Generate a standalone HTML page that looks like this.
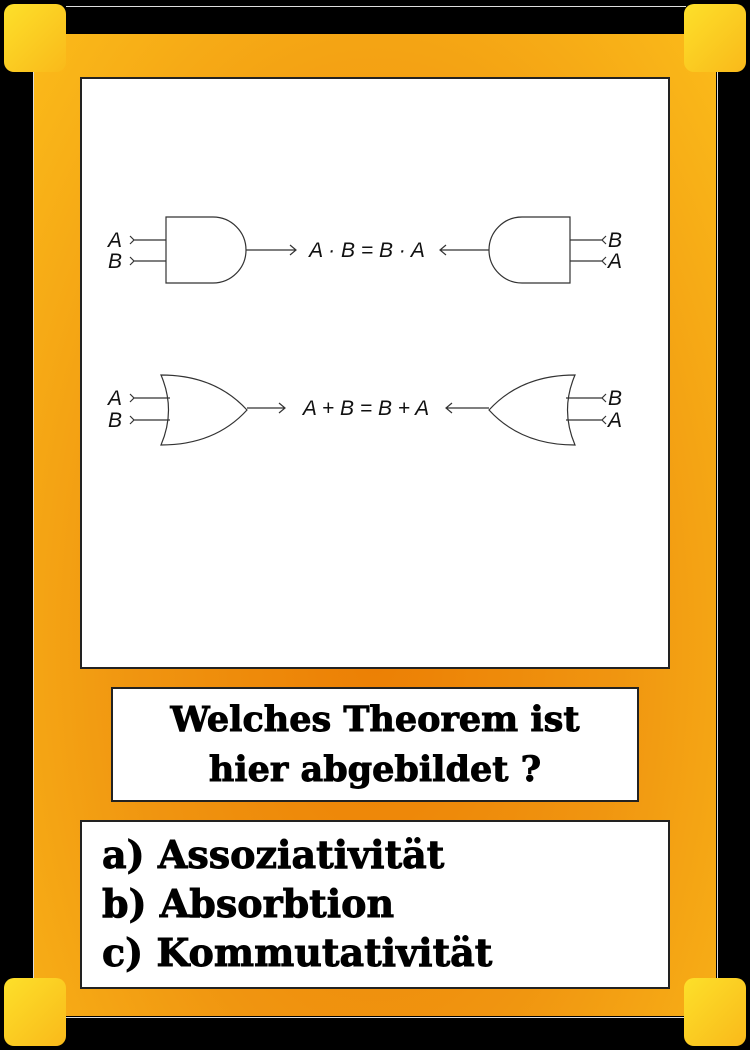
<!DOCTYPE html>
<html><head><meta charset="utf-8"><style>
html,body{margin:0;padding:0;background:#000;}
#card{position:relative;width:750px;height:1050px;background:#000;overflow:hidden;font-family:"DejaVu Serif","Liberation Serif",serif;}
.abs{position:absolute;}
#frame{left:34px;top:34px;width:682px;height:982px;background:radial-gradient(ellipse at 50% 62%,#ec7f04 0%,#f09510 50%,#fbbb1a 100%);}
.corner{width:62px;height:68px;border-radius:10px;background:linear-gradient(135deg,#fde02a,#f9b91a);}
.panel{background:#fff;border:2px solid #222;box-sizing:border-box;}
.q{font-weight:bold;font-size:35px;text-align:center;line-height:50px;color:#000;-webkit-text-stroke:0.9px #000;white-space:nowrap;}
.ans{font-weight:bold;font-size:38px;line-height:49px;color:#000;-webkit-text-stroke:0.9px #000;white-space:nowrap;}
</style></head><body>
<div id="card">
  <div class="abs" style="left:66px;top:6px;width:620px;height:26px;border-top:1px solid #ddd;"></div>
  <div class="abs" style="left:33px;top:70px;width:1px;height:908px;background:#ddd;"></div>
  <div class="abs" style="left:717px;top:70px;width:1px;height:908px;background:#ddd;"></div>
  <div class="abs" style="left:66px;top:1017px;width:620px;height:1px;background:#ddd;"></div>
  <div id="frame" class="abs"></div>
  <div class="abs corner" style="left:4px;top:4px;"></div>
  <div class="abs corner" style="left:684px;top:4px;"></div>
  <div class="abs corner" style="left:4px;top:978px;"></div>
  <div class="abs corner" style="left:684px;top:978px;"></div>

  <div class="abs panel" style="left:80px;top:77px;width:590px;height:592px;">
    <svg width="590" height="592" viewBox="80 77 590 592" style="position:absolute;left:-2px;top:-2px;">
      <g fill="none" stroke="#333" stroke-width="1.2">
        <path d="M166 217 H213 A33 33 0 0 1 213 283 H166 Z"/>
        <path d="M134 240 H166 M134 261 H166 M130 236 l4 4 l-4 4 M130 257 l4 4 l-4 4"/>
        <path d="M246 250 H296 M290 245 l6 5 l-6 5"/>
        <path d="M570 217 H522 A33 33 0 0 0 522 283 H570 Z"/>
        <path d="M570 240 H602 M570 261 H602 M606 236 l-4 4 l4 4 M606 257 l-4 4 l4 4"/>
        <path d="M489 250 H440 M446 245 l-6 5 l6 5"/>
        <path d="M161 375 Q215 375 247 410 Q215 445 161 445 Q176 410 161 375 Z"/>
        <path d="M134 398 H170 M134 420 H170 M130 394 l4 4 l-4 4 M130 416 l4 4 l-4 4"/>
        <path d="M247 408 H285 M279 403 l6 5 l-6 5"/>
        <path d="M575 375 Q521 375 489 410 Q521 445 575 445 Q560 410 575 375 Z"/>
        <path d="M566 398 H602 M566 420 H602 M606 394 l-4 4 l4 4 M606 416 l-4 4 l4 4"/>
        <path d="M489 408 H446 M452 403 l-6 5 l6 5"/>
      </g>
      <g font-family="Liberation Sans, sans-serif" font-style="italic" font-size="21" fill="#111">
        <text x="108" y="247">A</text><text x="108" y="268">B</text>
        <text x="608" y="247">B</text><text x="608" y="268">A</text>
        <text x="108" y="405">A</text><text x="108" y="427">B</text>
        <text x="608" y="405">B</text><text x="608" y="427">A</text>
        <text x="367" y="257" text-anchor="middle">A · B = B · A</text>
        <text x="366" y="415" text-anchor="middle">A + B = B + A</text>
      </g>
    </svg>
  </div>

  <div class="abs panel q" style="left:111px;top:687px;width:528px;height:115px;padding-top:6px;">
    Welches Theorem ist<br>hier abgebildet ?
  </div>

  <div class="abs panel ans" style="left:80px;top:820px;width:590px;height:169px;padding:8px 0 0 20px;">
    <div>a) Assoziativität</div>
    <div>b) Absorbtion</div>
    <div>c) Kommutativität</div>
  </div>
</div>
</body></html>
